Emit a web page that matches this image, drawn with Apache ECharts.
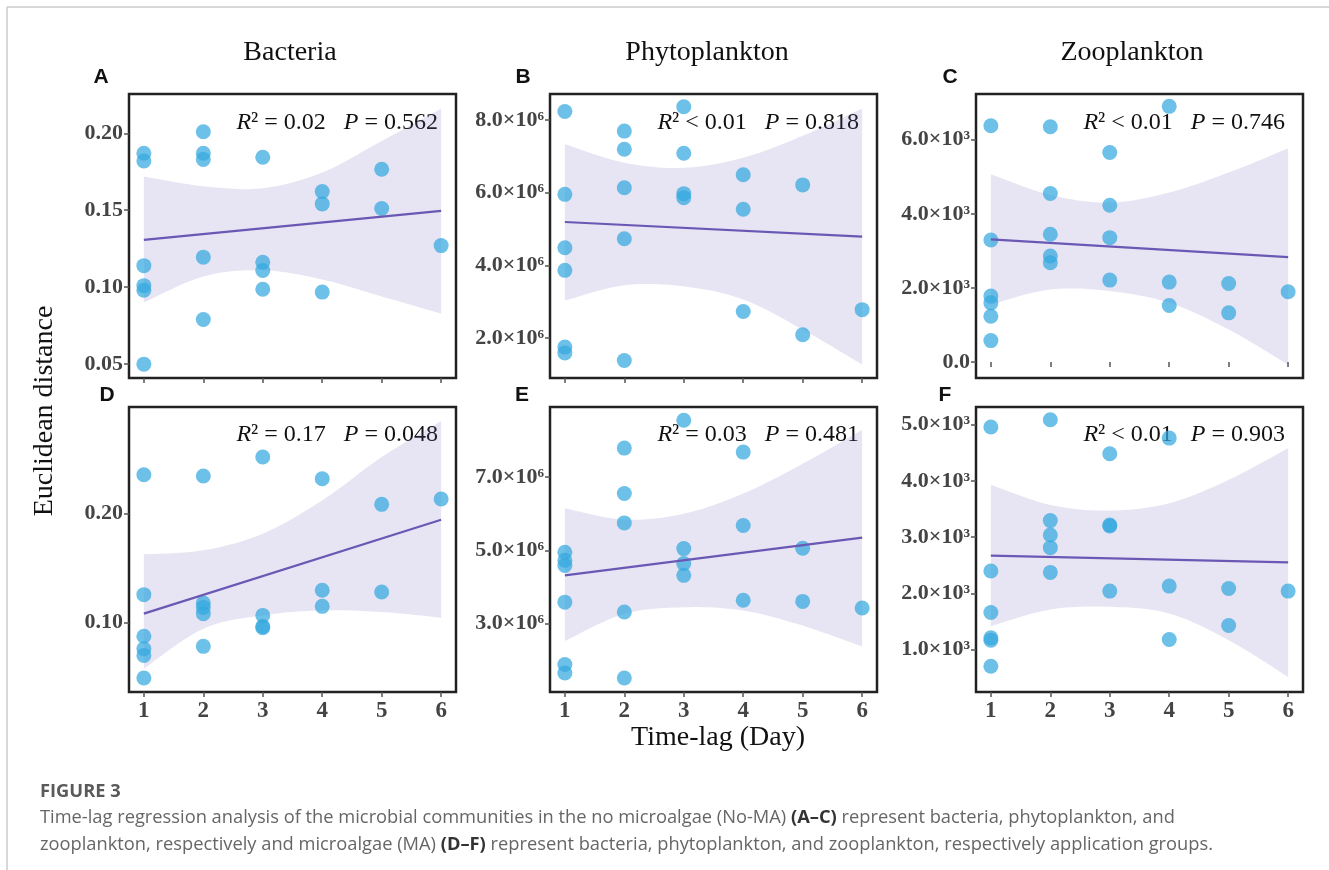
<!DOCTYPE html>
<html>
<head>
<meta charset="utf-8">
<script src="https://cdn.jsdelivr.net/npm/echarts@6/dist/echarts.min.js"></script>
<style>
  html, body { margin: 0; padding: 0; background: #fff; }
  #main { width: 1329px; height: 870px; }
</style>
</head>
<body>
<div id="main"></div>
<script>
// time-lag (day) of each point, same for every panel
var lags = [1, 1, 1, 1, 1, 1, 2, 2, 2, 2, 2, 3, 3, 3, 3, 4, 4, 4, 5, 5, 6];
var bandX = [1, 2, 3, 4, 5, 6];
var fitX = [1, 6];

// A - bacteria, No-MA
var distA = [0.187, 0.182, 0.114, 0.101, 0.098, 0.050, 0.201, 0.187, 0.183, 0.1195, 0.079,
  0.1844, 0.1162, 0.1108, 0.0987, 0.1621, 0.1541, 0.0968, 0.1766, 0.1511, 0.127];
var fitA = [0.1307, 0.1496];
var upA = [0.1719, 0.1656, 0.1643, 0.1745, 0.1950, 0.2160];
var loA = [0.0900, 0.1070, 0.1110, 0.1050, 0.0940, 0.0828];
var ticksA = [0.05, 0.10, 0.15, 0.20];

// B - phytoplankton, No-MA
var distB = [8.23e6, 5.95e6, 4.48e6, 3.86e6, 1.75e6, 1.59e6, 7.69e6, 7.19e6, 6.13e6, 4.73e6, 1.38e6,
  8.36e6, 7.08e6, 5.97e6, 5.86e6, 6.49e6, 5.54e6, 2.73e6, 6.21e6, 2.09e6, 2.78e6];
var fitB = [5.19e6, 4.79e6];
var upB = [7.33e6, 6.82e6, 6.68e6, 6.96e6, 7.56e6, 8.31e6];
var loB = [3.03e6, 3.45e6, 3.42e6, 3.06e6, 2.23e6, 1.27e6];
var ticksB = [2e6, 4e6, 6e6, 8e6];

// C - zooplankton, No-MA
var distC = [6379, 3293, 1778, 1597, 1236, 577, 6352, 4548, 3447, 2860, 2680,
  5657, 4232, 3357, 2211, 6902, 2156, 1525, 2120, 1326, 1895];
var fitC = [3311, 2833];
var upC = [5071, 4511, 4304, 4575, 5116, 5766];
var loC = [1552, 1958, 1913, 1597, 875, -72];
var ticksC = [0, 2000, 4000, 6000];

// D - bacteria, MA
var distD = [0.2358, 0.1257, 0.0875, 0.0761, 0.0700, 0.0492, 0.2346, 0.1180, 0.1140, 0.1083, 0.0783,
  0.2520, 0.1067, 0.0966, 0.0954, 0.2321, 0.1297, 0.1150, 0.2086, 0.1281, 0.2135];
var fitD = [0.1083, 0.1945];
var upD = [0.1627, 0.1664, 0.1817, 0.2122, 0.2520, 0.2850];
var loD = [0.0578, 0.0945, 0.1067, 0.1113, 0.1098, 0.1046];
var ticksD = [0.10, 0.20];

// E - phytoplankton, MA
var distE = [4.95e6, 4.73e6, 4.59e6, 3.59e6, 1.89e6, 1.66e6, 7.79e6, 6.55e6, 5.75e6, 3.32e6, 1.52e6,
  8.55e6, 5.05e6, 4.64e6, 4.32e6, 7.68e6, 5.68e6, 3.64e6, 5.06e6, 3.61e6, 3.43e6];
var fitE = [4.32e6, 5.35e6];
var upE = [6.15e6, 5.84e6, 6.00e6, 6.55e6, 7.36e6, 8.29e6];
var loE = [2.53e6, 3.27e6, 3.45e6, 3.36e6, 2.95e6, 2.38e6];
var ticksE = [3e6, 5e6, 7e6];

// F - zooplankton, MA
var distF = [4958, 2397, 1660, 1208, 1166, 702, 5089, 3294, 3038, 2813, 2373,
  4483, 3217, 3199, 2040, 4762, 2129, 1178, 2087, 1428, 2040];
var fitF = [2670, 2551];
var upF = [3930, 3573, 3472, 3603, 4019, 4584];
var loF = [1416, 1713, 1760, 1642, 1166, 512];
var ticksF = [1000, 2000, 3000, 4000, 5000];

var xTicks = [1, 2, 3, 4, 5, 6];

function fmtDec(v) { return v.toFixed(2); }
function fmtE6(v) { return (v / 1e6).toFixed(1) + '×10⁶'; }
function fmtE3(v) { return v === 0 ? '0.0' : (v / 1e3).toFixed(1) + '×10³'; }

var panels = [
  { y: distA, fit: fitA, up: upA, lo: loA, ticks: ticksA, min: 0.041, max: 0.2255, fmt: fmtDec, left: 129, top: 94, h: 284 },
  { y: distB, fit: fitB, up: upB, lo: loB, ticks: ticksB, min: 0.90e6, max: 8.71e6, fmt: fmtE6, left: 550, top: 94, h: 284 },
  { y: distC, fit: fitC, up: upC, lo: loC, ticks: ticksC, min: -433, max: 7236, fmt: fmtE3, left: 976, top: 94, h: 284 },
  { y: distD, fit: fitD, up: upD, lo: loD, ticks: ticksD, min: 0.0364, max: 0.2979, fmt: fmtDec, left: 129, top: 407, h: 285 },
  { y: distE, fit: fitE, up: upE, lo: loE, ticks: ticksE, min: 1.14e6, max: 8.91e6, fmt: fmtE6, left: 550, top: 407, h: 285 },
  { y: distF, fit: fitF, up: upF, lo: loF, ticks: ticksF, min: 245, max: 5315, fmt: fmtE3, left: 976, top: 407, h: 285 }
];

// catmull-rom through pixel points so the band edges are smooth
function spline(pts) {
  var out = [];
  for (var i = 0; i < pts.length - 1; i++) {
    var p0 = pts[i - 1] || pts[i], p1 = pts[i], p2 = pts[i + 1], p3 = pts[i + 2] || pts[i + 1];
    for (var s = 0; s < 12; s++) {
      var t = s / 12, t2 = t * t, t3 = t2 * t;
      out.push([0, 1].map(function (d) {
        return 0.5 * (2 * p1[d] + (-p0[d] + p2[d]) * t +
          (2 * p0[d] - 5 * p1[d] + 4 * p2[d] - p3[d]) * t2 +
          (-p0[d] + 3 * p1[d] - 3 * p2[d] + p3[d]) * t3);
      }));
    }
  }
  out.push(pts[pts.length - 1]);
  return out;
}

function bandRender(p) {
  return function (params, api) {
    var top = bandX.map(function (x, k) { return api.coord([x, p.up[k]]); });
    var bot = bandX.map(function (x, k) { return api.coord([x, p.lo[k]]); });
    var pts = spline(top).concat(spline(bot).reverse());
    return {
      type: 'polygon',
      shape: { points: pts },
      style: { fill: 'rgba(112, 100, 182, 0.17)' },
      silent: true
    };
  };
}

var serif = '"Liberation Serif", "Times New Roman", serif';
var grids = [], xAxes = [], yAxes = [], series = [];

panels.forEach(function (p, i) {
  grids.push({
    left: p.left, top: p.top, width: 327, height: p.h,
    show: true, borderColor: '#222', borderWidth: 2.5, backgroundColor: 'transparent'
  });
  xAxes.push({
    gridIndex: i, type: 'value', min: 0.75, max: 6.25,
    axisLine: { show: false }, splitLine: { show: false },
    axisTick: { show: true, length: 5, customValues: xTicks, lineStyle: { color: '#555', width: 1.5 } },
    axisLabel: {
      show: i >= 3, customValues: xTicks, margin: 8,
      color: '#444', fontFamily: serif, fontWeight: 'bold', fontSize: 23
    }
  });
  yAxes.push({
    gridIndex: i, type: 'value', min: p.min, max: p.max,
    axisLine: { show: false }, splitLine: { show: false },
    axisTick: { show: true, length: 5, customValues: p.ticks, lineStyle: { color: '#555', width: 1.5 } },
    axisLabel: {
      customValues: p.ticks, margin: 6, formatter: p.fmt,
      color: '#444', fontFamily: serif, fontWeight: 'bold', fontSize: 22
    }
  });
  series.push({
    type: 'custom', xAxisIndex: i, yAxisIndex: i, z: 1, clip: true,
    renderItem: bandRender(p),
    data: [[3.5, p.fit[0]]]
  });
  series.push({
    type: 'scatter', xAxisIndex: i, yAxisIndex: i, symbolSize: 15, z: 2,
    itemStyle: { color: 'rgb(52, 168, 222)', opacity: 0.72 },
    data: lags.map(function (x, k) { return [x, p.y[k]]; })
  });
  series.push({
    type: 'line', xAxisIndex: i, yAxisIndex: i, symbol: 'none', z: 3,
    lineStyle: { color: '#6a58b4', width: 2.2 },
    data: fitX.map(function (x, k) { return [x, p.fit[k]]; })
  });
});

var statRich = {
  i: { fontFamily: serif, fontStyle: 'italic', fontSize: 24, fill: '#111' },
  n: { fontFamily: serif, fontSize: 24, fill: '#111' }
};
function statText(x, y, txt) {
  return {
    type: 'text', x: x, y: y,
    style: { text: txt, rich: statRich, align: 'right', verticalAlign: 'middle' }
  };
}
function plainText(x, y, txt, font, fill) {
  return {
    type: 'text', x: x, y: y,
    style: { text: txt, font: font, fill: fill || '#111', align: 'center', verticalAlign: 'middle' }
  };
}
var letterFont = 'bold 21px "Liberation Sans", Arial, sans-serif';
var titleFont = '28px "Liberation Serif", "Times New Roman", serif';
var capFont = '18.3px "Open Sans", "Noto Sans", sans-serif';
var capBold = 'bold 18.3px "Open Sans", "Noto Sans", sans-serif';

var graphics = [
  { type: 'line', shape: { x1: 7, y1: 7, x2: 1329, y2: 7 }, style: { stroke: '#cbcbcb', lineWidth: 1.5 } },
  { type: 'line', shape: { x1: 7, y1: 7, x2: 7, y2: 870 }, style: { stroke: '#cbcbcb', lineWidth: 1.5 } },
  plainText(290, 53, 'Bacteria', titleFont),
  plainText(707, 53, 'Phytoplankton', titleFont),
  plainText(1132, 53, 'Zooplankton', titleFont),
  plainText(101, 77, 'A', letterFont),
  plainText(523, 77, 'B', letterFont),
  plainText(950, 77, 'C', letterFont),
  plainText(107, 395, 'D', letterFont),
  plainText(522, 395, 'E', letterFont),
  plainText(945, 395, 'F', letterFont),
  statText(438, 123, '{i|R}{n|² = 0.02   }{i|P}{n| = 0.562}'),
  statText(859, 123, '{i|R}{n|² < 0.01   }{i|P}{n| = 0.818}'),
  statText(1285, 123, '{i|R}{n|² < 0.01   }{i|P}{n| = 0.746}'),
  statText(438, 435, '{i|R}{n|² = 0.17   }{i|P}{n| = 0.048}'),
  statText(859, 435, '{i|R}{n|² = 0.03   }{i|P}{n| = 0.481}'),
  statText(1285, 435, '{i|R}{n|² < 0.01   }{i|P}{n| = 0.903}'),
  {
    type: 'text', x: 45, y: 411, rotation: Math.PI / 2,
    style: { text: 'Euclidean distance', font: titleFont, fill: '#111', align: 'center', verticalAlign: 'middle' }
  },
  plainText(718, 738, 'Time-lag (Day)', titleFont),
  {
    type: 'text', x: 40, y: 792,
    style: { text: 'FIGURE 3', font: capBold, fill: '#5a5a5a', verticalAlign: 'middle' }
  },
  {
    type: 'text', x: 40, y: 818,
    style: {
      text: 'Time-lag regression analysis of the microbial communities in the no microalgae (No-MA) {b|(A–C)} represent bacteria, phytoplankton, and',
      font: capFont, fill: '#666', verticalAlign: 'middle',
      rich: { b: { font: capBold, fill: '#333' } }
    }
  },
  {
    type: 'text', x: 40, y: 845,
    style: {
      text: 'zooplankton, respectively and microalgae (MA) {b|(D–F)} represent bacteria, phytoplankton, and zooplankton, respectively application groups.',
      font: capFont, fill: '#666', verticalAlign: 'middle',
      rich: { b: { font: capBold, fill: '#333' } }
    }
  }
];

var chart = echarts.init(document.getElementById('main'), null, { renderer: 'canvas' });
chart.setOption({
  backgroundColor: '#fff',
  animation: false,
  grid: grids,
  xAxis: xAxes,
  yAxis: yAxes,
  series: series,
  graphic: graphics
});
</script>
</body>
</html>
